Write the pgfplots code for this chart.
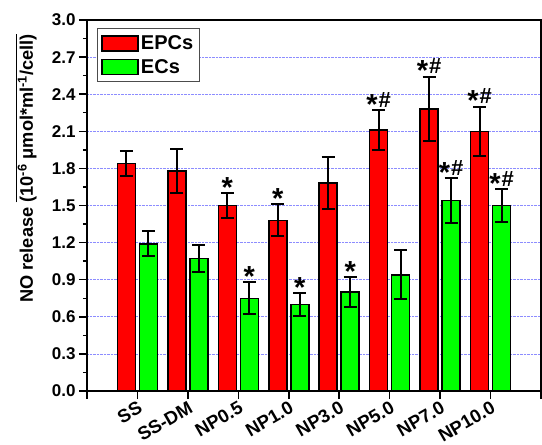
\documentclass[border=0pt]{standalone}
\usepackage{fontspec}
\setmainfont{Liberation Sans}
\usepackage{pgfplots}
\usepackage{pgfplotstable}
\pgfplotsset{compat=1.18}

\definecolor{barred}{RGB}{255,0,0}
\definecolor{bargreen}{RGB}{0,255,0}
\definecolor{gridblue}{RGB}{140,140,255}

% significance marks
\newcommand{\sigA}{{\bfseries\fontsize{29}{29}\selectfont *}}
\newcommand{\sigB}{{\bfseries\fontsize{29}{29}\selectfont *}\kern1pt\raisebox{7pt}{\bfseries\fontsize{22}{22}\selectfont\#}}

% NO release per cell: mean and standard deviation
\pgfplotstableread{
x y e
1 1.84 0.10
2 1.78 0.18
3 1.50 0.10
4 1.38 0.13
5 1.68 0.21
6 2.11 0.16
7 2.28 0.26
8 2.10 0.20
}\epcs
\pgfplotstableread{
x y e
1 1.19 0.10
2 1.07 0.11
3 0.75 0.13
4 0.70 0.09
5 0.80 0.12
6 0.94 0.20
7 1.54 0.18
8 1.50 0.13
}\ecs

\begin{document}
\begin{tikzpicture}
\begin{axis}[
  at={(0pt,0pt)}, anchor=south west,
  scale only axis, width=454pt, height=371pt,
  xmin=0, xmax=9, ymin=0, ymax=3,
  xtick={0,1,2,3,4,5,6,7,8,9},
  xticklabels={,SS,SS-DM,NP0.5,NP1.0,NP3.0,NP5.0,NP7.0,NP10.0,},
  ytick={0,0.3,0.6,0.9,1.2,1.5,1.8,2.1,2.4,2.7,3.0},
  minor y tick num=1,
  tick align=outside, major tick length=8pt, minor tick length=4pt,
  xtick pos=bottom, ytick pos=left,
  axis line style={line width=2pt},
  tick style={black, line width=1.5pt},
  ymajorgrids, grid style={gridblue, densely dotted, line width=0.8pt},
  /pgf/number format/assume math mode=true,
  yticklabel style={font=\fontsize{17}{17}\selectfont\bfseries,
    /pgf/number format/.cd, fixed, fixed zerofill, precision=1},
  xticklabel style={font=\fontsize{18.5}{18.5}\selectfont\bfseries, rotate=30, anchor=north east, inner sep=1pt},
  ylabel={NO release $\overline{\mbox{(10\textsuperscript{-6} μmol*ml\textsuperscript{-1}/cell)}}$},
  ylabel style={at={(axis description cs:-0.134,0.60)}, anchor=center, font=\fontsize{18.2}{18.2}\selectfont\bfseries},
  legend style={at={(0.022,0.978)}, anchor=north west, draw=gray!60!black, line width=1pt,
    font=\fontsize{20}{20}\selectfont\bfseries, row sep=4pt, inner xsep=4pt, inner ysep=5pt},
  legend cell align=left,
  legend image code/.code={\draw[#1, line width=1.5pt] (0pt,-7.5pt) rectangle (36pt,7.5pt);},
]
\addplot[ybar, bar width=18pt, bar shift=-11pt, fill=barred, draw=black, line width=1.5pt,
  error bars/.cd, y dir=both, y explicit,
  error bar style={line width=2pt, black, xshift=-11pt},
  error mark options={rotate=90, mark size=6.5pt, line width=2pt, black}]
  table[x=x, y=y, y error=e] {\epcs};
\addlegendentry{EPCs}
\addplot[ybar, bar width=18pt, bar shift=11pt, fill=bargreen, draw=black, line width=1.5pt,
  error bars/.cd, y dir=both, y explicit,
  error bar style={line width=2pt, black, xshift=11pt},
  error mark options={rotate=90, mark size=6.5pt, line width=2pt, black}]
  table[x=x, y=y, y error=e] {\ecs};
\addlegendentry{ECs}

% marks above the error bars
\addplot[forget plot, only marks, mark=none, nodes near coords={\sigA},
  nodes near coords style={anchor=base, yshift=-4pt, xshift=-11pt, inner sep=0pt, black}]
  table {
x y
3 1.60
4 1.51
};
\addplot[forget plot, only marks, mark=none, nodes near coords={\sigB},
  nodes near coords style={anchor=base, yshift=-4pt, xshift=-11pt, inner sep=0pt, black}]
  table {
x y
6 2.27
7 2.54
8 2.30
};
\addplot[forget plot, only marks, mark=none, nodes near coords={\sigA},
  nodes near coords style={anchor=base, yshift=-4pt, xshift=11pt, inner sep=0pt, black}]
  table {
x y
3 0.88
4 0.79
5 0.92
};
\addplot[forget plot, only marks, mark=none, nodes near coords={\sigB},
  nodes near coords style={anchor=base, yshift=-4pt, xshift=11pt, inner sep=0pt, black}]
  table {
x y
7 1.72
8 1.63
};
\end{axis}
\pgfresetboundingbox
\useasboundingbox (-87pt,-54pt) rectangle (455pt,391pt);
\end{tikzpicture}
\end{document}
